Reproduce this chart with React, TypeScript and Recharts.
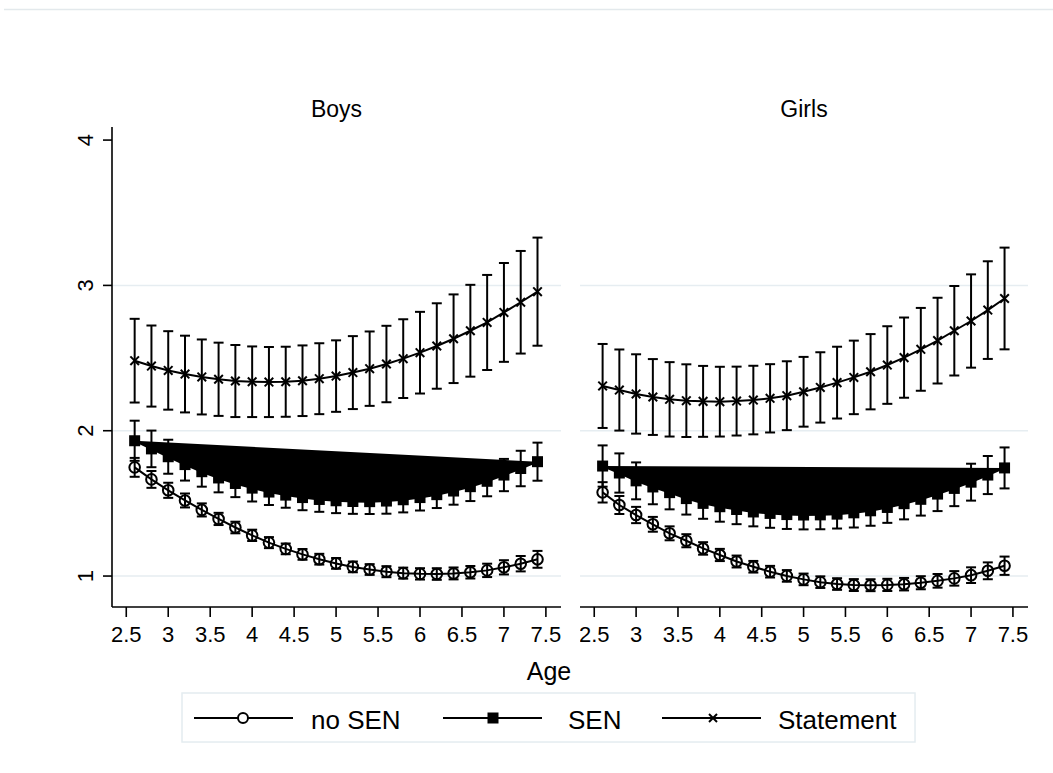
import React from 'react';
import { LineChart, Line, XAxis, YAxis, CartesianGrid, ErrorBar } from 'recharts';

const ages = [2.6, 2.8, 3.0, 3.2, 3.4, 3.6, 3.8, 4.0, 4.2, 4.4, 4.6, 4.8, 5.0, 5.2, 5.4, 5.6, 5.8, 6.0, 6.2, 6.4, 6.6, 6.8, 7.0, 7.2, 7.4];
const xTicks = [2.5, 3, 3.5, 4, 4.5, 5, 5.5, 6, 6.5, 7, 7.5];
const yTicks = [1, 2, 3, 4];

const boysNoSen = [1.748, 1.665, 1.590, 1.520, 1.455, 1.393, 1.334, 1.280, 1.230, 1.187, 1.149, 1.116, 1.087, 1.063, 1.045, 1.030, 1.020, 1.015, 1.014, 1.018, 1.026, 1.039, 1.060, 1.085, 1.115];
const boysNoSenCi = [0.065, 0.058, 0.052, 0.048, 0.045, 0.042, 0.040, 0.039, 0.038, 0.037, 0.037, 0.037, 0.037, 0.037, 0.037, 0.038, 0.038, 0.039, 0.040, 0.041, 0.043, 0.046, 0.049, 0.053, 0.058];
const boysSen = [1.931, 1.875, 1.821, 1.767, 1.718, 1.675, 1.637, 1.605, 1.578, 1.557, 1.540, 1.527, 1.518, 1.513, 1.512, 1.516, 1.525, 1.540, 1.560, 1.585, 1.615, 1.652, 1.695, 1.740, 1.787];
const boysSenCi = [0.138, 0.126, 0.117, 0.110, 0.103, 0.099, 0.094, 0.092, 0.089, 0.087, 0.087, 0.085, 0.085, 0.085, 0.085, 0.087, 0.087, 0.089, 0.092, 0.094, 0.099, 0.103, 0.111, 0.122, 0.131];
const boysStatement = [2.482, 2.445, 2.415, 2.390, 2.370, 2.354, 2.342, 2.337, 2.335, 2.337, 2.344, 2.358, 2.376, 2.400, 2.427, 2.459, 2.496, 2.537, 2.583, 2.633, 2.688, 2.745, 2.814, 2.884, 2.957];
const boysStatementCi = [0.288, 0.279, 0.270, 0.264, 0.258, 0.252, 0.248, 0.243, 0.241, 0.241, 0.243, 0.244, 0.246, 0.251, 0.256, 0.263, 0.271, 0.281, 0.294, 0.305, 0.316, 0.327, 0.340, 0.353, 0.372];

const girlsNoSen = [1.576, 1.489, 1.420, 1.356, 1.294, 1.243, 1.190, 1.145, 1.100, 1.064, 1.030, 1.001, 0.977, 0.958, 0.945, 0.938, 0.937, 0.939, 0.944, 0.954, 0.967, 0.984, 1.006, 1.036, 1.071];
const girlsNoSenCi = [0.070, 0.062, 0.056, 0.051, 0.048, 0.045, 0.043, 0.042, 0.041, 0.040, 0.040, 0.040, 0.040, 0.040, 0.040, 0.041, 0.041, 0.042, 0.043, 0.045, 0.047, 0.050, 0.054, 0.058, 0.063];
const girlsSen = [1.757, 1.709, 1.655, 1.613, 1.574, 1.533, 1.500, 1.477, 1.458, 1.441, 1.431, 1.423, 1.420, 1.421, 1.426, 1.435, 1.449, 1.472, 1.498, 1.528, 1.564, 1.603, 1.646, 1.695, 1.744];
const girlsSenCi = [0.142, 0.135, 0.127, 0.119, 0.115, 0.110, 0.106, 0.103, 0.101, 0.099, 0.099, 0.099, 0.099, 0.099, 0.099, 0.101, 0.103, 0.106, 0.108, 0.112, 0.117, 0.122, 0.127, 0.131, 0.141];
const girlsStatement = [2.308, 2.280, 2.253, 2.232, 2.216, 2.207, 2.202, 2.200, 2.204, 2.211, 2.223, 2.241, 2.268, 2.298, 2.331, 2.367, 2.406, 2.452, 2.503, 2.560, 2.620, 2.688, 2.755, 2.830, 2.910];
const girlsStatementCi = [0.289, 0.279, 0.273, 0.261, 0.256, 0.250, 0.244, 0.240, 0.237, 0.236, 0.235, 0.237, 0.240, 0.242, 0.247, 0.253, 0.259, 0.267, 0.276, 0.285, 0.295, 0.308, 0.321, 0.336, 0.350];

const FONT = '"Liberation Sans", Arial, Helvetica, sans-serif';
const Y_DOMAIN = [0.787, 4.09];
const X_DOMAIN = [2.33, 7.68];
const SW = 2;

const build = (noSen: number[], noSenCi: number[], sen: number[], senCi: number[], st: number[], stCi: number[]) =>
  ages.map((age, i) => ({
    age,
    noSen: noSen[i],
    noSenCi: noSenCi[i],
    sen: sen[i],
    senCi: senCi[i],
    st: st[i],
    stCi: stCi[i],
  }));

const boysData = build(boysNoSen, boysNoSenCi, boysSen, boysSenCi, boysStatement, boysStatementCi);
const girlsData = build(girlsNoSen, girlsNoSenCi, girlsSen, girlsSenCi, girlsStatement, girlsStatementCi);

const CircleDot = (p: any) => (
  <circle key={`c${p.index}`} cx={p.cx} cy={p.cy} r={5.3} fill="none" stroke="#000" strokeWidth={SW} />
);
const SquareDot = (p: any) => (
  <rect key={`s${p.index}`} x={p.cx - 5.5} y={p.cy - 5.5} width={11} height={11} fill="#000" />
);
const CrossDot = (p: any) => (
  <g key={`x${p.index}`} stroke="#000" strokeWidth={SW}>
    <line x1={p.cx - 4.3} y1={p.cy - 4.3} x2={p.cx + 4.3} y2={p.cy + 4.3} />
    <line x1={p.cx - 4.3} y1={p.cy + 4.3} x2={p.cx + 4.3} y2={p.cy - 4.3} />
  </g>
);

const YTick = (p: any) => {
  const x = 93.5;
  return (
    <text x={x} y={p.y} transform={`rotate(-90 ${x} ${p.y})`} textAnchor="middle" fontSize={22} fontFamily={FONT} fill="#000">
      {p.payload.value}
    </text>
  );
};

const Panel = ({ data, showY, width, right }: { data: any[]; showY: boolean; width: number; right: number }) => (
  <LineChart width={width} height={660} data={data} margin={{ top: 127, right, bottom: 0, left: 0 }}>
    <CartesianGrid vertical={false} horizontalValues={[1, 2, 3]} stroke="#e6edf1" strokeWidth={1.5} />
    <XAxis
      dataKey="age"
      type="number"
      domain={X_DOMAIN}
      ticks={xTicks}
      allowDataOverflow
      height={53}
      tickSize={10}
      tickMargin={9}
      stroke="#000"
      strokeWidth={1.6}
      tick={{ fill: '#000', fontSize: 22, fontFamily: FONT }}
    />
    <YAxis
      type="number"
      domain={Y_DOMAIN}
      ticks={yTicks}
      allowDataOverflow
      hide={!showY}
      width={112}
      tickSize={9}
      stroke="#000"
      strokeWidth={1.6}
      tick={<YTick />}
    />
    <Line className="sen-poly" type="linear" dataKey="sen" stroke="#000" strokeWidth={SW} dot={SquareDot} activeDot={false} isAnimationActive={false}>
      <ErrorBar dataKey="senCi" width={5} stroke="#000" strokeWidth={SW} direction="y" />
    </Line>
    <Line type="linear" dataKey="noSen" stroke="#000" strokeWidth={SW} dot={CircleDot} activeDot={false} isAnimationActive={false}>
      <ErrorBar dataKey="noSenCi" width={5} stroke="#000" strokeWidth={SW} direction="y" />
    </Line>
    <Line type="linear" dataKey="st" stroke="#000" strokeWidth={SW} dot={CrossDot} activeDot={false} isAnimationActive={false}>
      <ErrorBar dataKey="stCi" width={5} stroke="#000" strokeWidth={SW} direction="y" />
    </Line>
  </LineChart>
);

export default function App() {
  return (
    <div style={{ position: 'absolute', left: 0, top: 0, width: 1053, height: 773, background: '#fff', fontFamily: FONT }}>
      {/* Stata draws the SEN connect line as a closed, filled shape */}
      <style>{`.sen-poly .recharts-line-curve { fill: #000 !important; }`}</style>
      <div style={{ position: 'absolute', left: 0, top: 0 }}>
        <Panel data={boysData} showY width={580} right={19} />
      </div>
      <div style={{ position: 'absolute', left: 580, top: 0 }}>
        <Panel data={girlsData} showY={false} width={473} right={25} />
      </div>
      <svg width={1053} height={773} style={{ position: 'absolute', left: 0, top: 0, pointerEvents: 'none' }}>
        <line x1={4} y1={9.5} x2={1053} y2={9.5} stroke="#e3e9ec" strokeWidth={1.5} />
        <text x={336.5} y={117} textAnchor="middle" fontSize={23} fontFamily={FONT} fill="#000">Boys</text>
        <text x={804} y={117} textAnchor="middle" fontSize={23} fontFamily={FONT} fill="#000">Girls</text>
        <text x={549} y={680} textAnchor="middle" fontSize={25} fontFamily={FONT} fill="#000">Age</text>
        <rect x={182} y={693} width={733} height={49} fill="#fff" stroke="#e4ecf0" strokeWidth={1.5} />
        <g stroke="#000" strokeWidth={SW}>
          <line x1={194} y1={718} x2={293} y2={718} />
          <line x1={443} y1={718} x2={542} y2={718} />
          <line x1={662} y1={718} x2={761} y2={718} />
        </g>
        <circle cx={243} cy={718} r={5} fill="#fff" stroke="#000" strokeWidth={SW} />
        <rect x={487.5} y={712.5} width={11} height={11} fill="#000" />
        <g stroke="#000" strokeWidth={SW}>
          <line x1={709} y1={714} x2={717} y2={722} />
          <line x1={709} y1={722} x2={717} y2={714} />
        </g>
        <text x={311} y={729} fontSize={26} fontFamily={FONT} fill="#000">no SEN</text>
        <text x={568} y={729} fontSize={26} fontFamily={FONT} fill="#000">SEN</text>
        <text x={778} y={729} fontSize={26} fontFamily={FONT} fill="#000">Statement</text>
      </svg>
    </div>
  );
}
